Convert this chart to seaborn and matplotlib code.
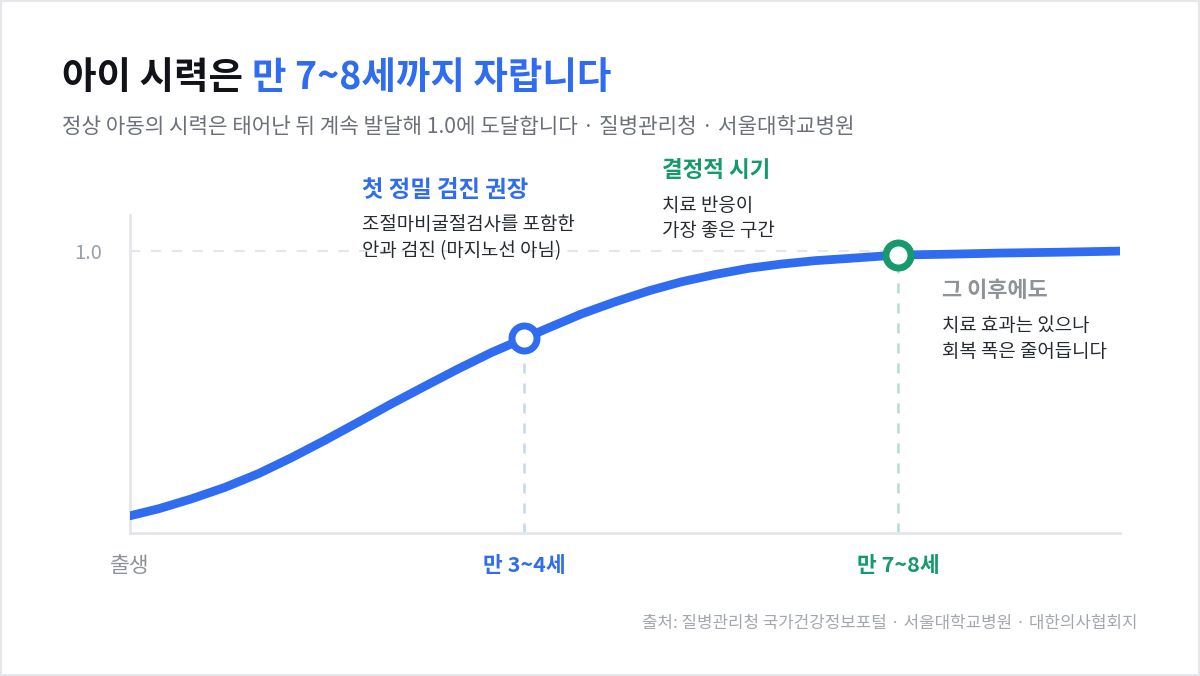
import numpy as np
import pandas as pd
import matplotlib
matplotlib.use("Agg")
import matplotlib.pyplot as plt
import seaborn as sns
from matplotlib.patches import Rectangle

# Data (x on an abstract 0-100 timeline, y = visual acuity)
age_pos = [0, 2.9, 6.2, 9.6, 13.0, 16.3, 19.7, 23.1, 26.4, 29.8, 33.2, 36.5, 39.8,
           42.3, 45.6, 49.0, 52.4, 55.7, 59.1, 62.5, 65.8, 69.2, 72.6, 75.9, 77.6,
           82.8, 87.9, 93.9, 100]
acuity = [0.061, 0.086, 0.121, 0.162, 0.211, 0.267, 0.329, 0.394, 0.458, 0.521, 0.583, 0.640, 0.690,
          0.728, 0.777, 0.820, 0.859, 0.891, 0.917, 0.939, 0.954, 0.966, 0.974, 0.982, 0.986,
          0.989, 0.993, 0.996, 1.0]
key_pos = [39.8, 77.6]
key_val = [0.690, 0.986]
tick_pos = [0, 39.8, 77.6]
tick_labels = ["출생", "만 3~4세", "만 7~8세"]

BLUE = "#2f6cf0"
GREEN = "#16996b"
GRAY = "#8e9299"
DARK = "#262a31"

sns.set_theme(style="white")
plt.rcParams["font.family"] = ["Noto Sans CJK KR", "DejaVu Sans"]

fig = plt.figure(figsize=(12, 6.76), dpi=100)
ax = fig.add_axes([130 / 1200, 143 / 676, 990 / 1200, 318 / 676])

df = pd.DataFrame({"pos": age_pos, "acuity": acuity})
sns.lineplot(data=df, x="pos", y="acuity", ax=ax, color=BLUE, linewidth=6.3,
             solid_capstyle="round", solid_joinstyle="round", zorder=3)

# guide lines
ax.axhline(1.0, color="#e3e6ec", linewidth=1.5, dashes=(5, 5), zorder=1)
for p, v, c in zip(key_pos, key_val, ["#c5d5f8", "#b3dfcd"]):
    ax.plot([p, p], [0, v], color=c, linewidth=1.8, dashes=(4, 4), zorder=2)

for p, v, c in zip(key_pos, key_val, [BLUE, GREEN]):
    ax.plot(p, v, marker="o", markersize=18, markerfacecolor="white",
            markeredgecolor=c, markeredgewidth=5, zorder=5)

ax.set_xlim(0, 100)
ax.set_ylim(0, 1.128)
ax.set_xlabel("")
ax.set_ylabel("")
ax.set_yticks([1.0])
ax.set_yticklabels(["1.0"], color="#9aa0a8", fontsize=14.5)
ax.set_xticks(tick_pos)
ax.set_xticklabels(tick_labels, fontsize=15.5)
for lbl, c, w in zip(ax.get_xticklabels(), [GRAY, BLUE, GREEN], ["normal", "bold", "bold"]):
    lbl.set_color(c)
    lbl.set_fontweight(w)
ax.tick_params(axis="both", length=0)
ax.tick_params(axis="x", pad=16)
ax.tick_params(axis="y", pad=20)
for s in ["top", "right"]:
    ax.spines[s].set_visible(False)
for s in ["left", "bottom"]:
    ax.spines[s].set_color("#e4e6eb")
    ax.spines[s].set_linewidth(2)

# title in two colours
renderer = fig.canvas.get_renderer()
t1 = fig.text(62 / 1200, 1 - 78 / 676, "아이 시력은 ", fontsize=27, fontweight="bold",
              color="#111318", va="center", ha="left")
bb = t1.get_window_extent(renderer=renderer)
fig.text(bb.x1 / 1200, 1 - 78 / 676, "만 7~8세까지 자랍니다", fontsize=27, fontweight="bold",
         color=BLUE, va="center", ha="left")
fig.text(62 / 1200, 1 - 127 / 676,
         "정상 아동의 시력은 태어난 뒤 계속 발달해 1.0에 도달합니다 · 질병관리청 · 서울대학교병원",
         fontsize=15.3, color="#6b7079", va="center", ha="left")

# annotations
def note(x, y, head, lines, color, head_size):
    fig.text(x / 1200, 1 - y / 676, head, fontsize=head_size, fontweight="bold",
             color=color, va="center", ha="left")
    for i, line in enumerate(lines):
        fig.text(x / 1200, 1 - (y + 35 + 26 * i) / 676, line, fontsize=13.6,
                 fontweight="medium", color=DARK, va="center", ha="left")

note(362, 190, "첫 정밀 검진 권장", ["조절마비굴절검사를 포함한", "안과 검진 (마지노선 아님)"], BLUE, 16.8)
note(662, 170, "결정적 시기", ["치료 반응이", "가장 좋은 구간"], GREEN, 16.2)
note(942, 290, "그 이후에도", ["치료 효과는 있으나", "회복 폭은 줄어듭니다"], GRAY, 15.8)

fig.text(1137 / 1200, 1 - 623 / 676,
         "출처: 질병관리청 국가건강정보포털 · 서울대학교병원 · 대한의사협회지",
         fontsize=12.1, color="#a3a7ae", va="center", ha="right")

fig.patches.append(Rectangle((0, 0), 1, 1, transform=fig.transFigure, fill=False,
                             edgecolor="#e6e7ea", linewidth=3, zorder=10))

fig.savefig("out.png", dpi=100, facecolor="white")
